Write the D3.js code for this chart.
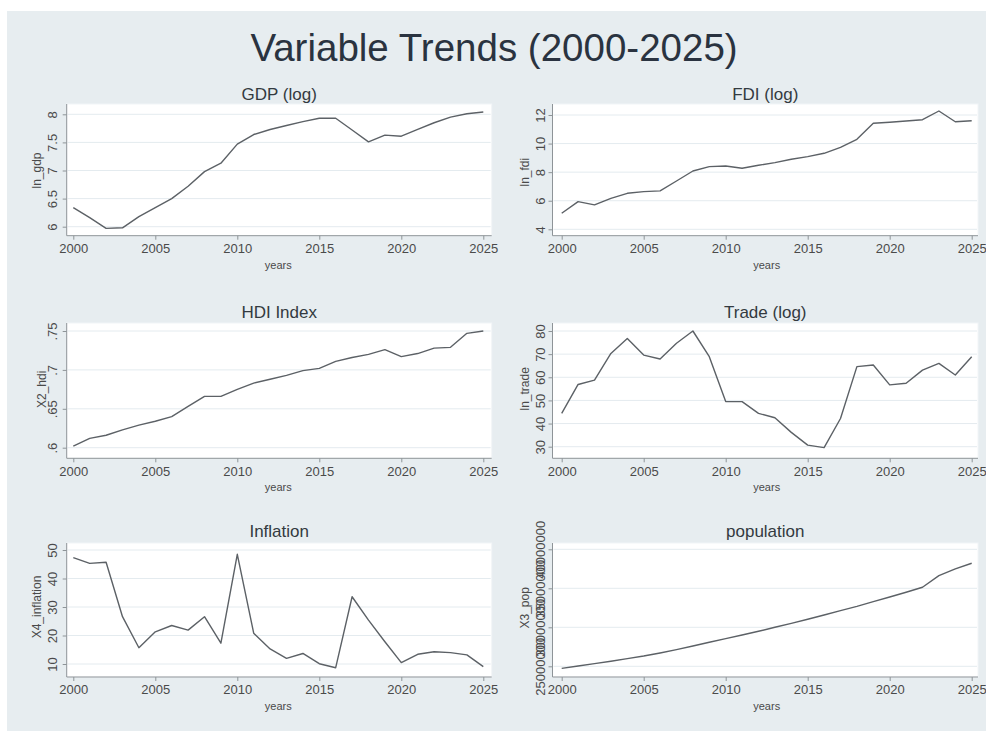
<!DOCTYPE html>
<html><head><meta charset="utf-8">
<script src="https://cdn.jsdelivr.net/npm/d3@7"></script>
<style>
html,body{margin:0;padding:0;background:#ffffff;}
svg{display:block;font-family:"Liberation Sans",Arial,sans-serif;}
</style></head>
<body>
<svg id="chart" width="986" height="731"></svg>
<script>
// ---------- DATA ----------
const years = [2000,2001,2002,2003,2004,2005,2006,2007,2008,2009,2010,2011,2012,2013,2014,2015,2016,2017,2018,2019,2020,2021,2022,2023,2024,2025];
const xTicks = [2000,2005,2010,2015,2020,2025];

const lnGdp = [6.34,6.16,5.97,5.98,6.18,6.34,6.50,6.72,6.98,7.13,7.47,7.64,7.73,7.80,7.87,7.93,7.93,7.72,7.51,7.63,7.61,7.73,7.85,7.95,8.01,8.04];
const lnFdi = [5.12,5.94,5.71,6.17,6.52,6.64,6.69,7.38,8.08,8.39,8.43,8.27,8.48,8.67,8.90,9.09,9.32,9.74,10.30,11.42,11.49,11.58,11.67,12.28,11.53,11.60];
const hdi = [0.602,0.612,0.616,0.623,0.629,0.634,0.640,0.653,0.666,0.666,0.675,0.683,0.688,0.693,0.699,0.702,0.711,0.716,0.720,0.726,0.717,0.721,0.728,0.729,0.747,0.750];
const lnTrade = [44.4,56.9,58.8,70.3,76.8,69.6,67.9,74.7,80.0,68.9,49.5,49.5,44.4,42.5,36.2,30.7,29.6,42.2,64.6,65.3,56.7,57.4,63.1,66.0,61.0,68.9];
const inflation = [47.3,45.3,45.7,26.6,15.7,21.3,23.5,21.9,26.6,17.3,48.5,20.8,15.3,12.0,13.7,10.1,8.7,33.6,25.4,17.8,10.5,13.4,14.3,14.0,13.2,9.1];
const population = [24740000,25040000,25340000,25640000,25980000,26320000,26710000,27140000,27610000,28080000,28550000,29020000,29490000,30000000,30510000,31030000,31580000,32140000,32690000,33290000,33890000,34490000,35130000,36620000,37480000,38210000];

const gdpTicks = [6,6.5,7,7.5,8];
const fdiTicks = [4,6,8,10,12];
const hdiTicks = [0.6,0.65,0.7,0.75];
const hdiTickLabels = [".6",".65",".7",".75"];
const tradeTicks = [30,40,50,60,70,80];
const inflTicks = [10,20,30,40,50];
const popTicks = [25000000,30000000,35000000,40000000];

const panelTitles = ["GDP (log)","FDI (log)","HDI Index","Trade (log)","Inflation","population"];
const yTitles = ["ln_gdp","ln_fdi","X2_hdi","ln_trade","X4_inflation","X3_pop"];
const mainTitle = "Variable Trends (2000-2025)";
const xTitle = "years";

// ---------- LAYOUT ----------
const cols = [
  {px0:66.7, px1:491.7, x0:73.3, x1:483.3, tickLblX:53, titleX:37},
  {px0:552.5, px1:978, x0:561.7, x1:971.7, tickLblX:540, titleX:525}
];
const rows = [
  {top:104, axisY:235.7, titleY:94},
  {top:323, axisY:458.3, titleY:312},
  {top:543, axisY:677, titleY:531}
];

const panels = [
  {col:0,row:0, values:lnGdp, ticks:gdpTicks, labels:gdpTicks.map(String), yr:[226.7,114.3]},
  {col:1,row:0, values:lnFdi, ticks:fdiTicks, labels:fdiTicks.map(String), yr:[229.3,115]},
  {col:0,row:1, values:hdi, ticks:hdiTicks, labels:hdiTickLabels, yr:[447.7,331], titleX:42},
  {col:1,row:1, values:lnTrade, ticks:tradeTicks, labels:tradeTicks.map(String), yr:[446.7,331]},
  {col:0,row:2, values:inflation, ticks:inflTicks, labels:inflTicks.map(String), yr:[664,550]},
  {col:1,row:2, values:population, ticks:popTicks, labels:popTicks.map(String), yr:[666.3,549.3]}
];

const C = {
  bg:"#e7edf0", plot:"#ffffff", grid:"#e4ebef", axis:"#8e9498",
  line:"#5c6166", tick:"#4a4a4a", title:"#2a3340", sub:"#333a40"
};

const svg = d3.select("#chart");
svg.append("rect").attr("x",7).attr("y",11).attr("width",979).attr("height",720).attr("fill",C.bg);

svg.append("text").attr("x",494).attr("y",61).attr("text-anchor","middle")
  .attr("font-size",38.5).attr("fill",C.title).text(mainTitle);

panels.forEach((p,i)=>{
  const c = cols[p.col], r = rows[p.row];
  const x = d3.scaleLinear().domain([xTicks[0], xTicks[xTicks.length-1]]).range([c.x0, c.x1]);
  const y = d3.scaleLinear().domain([p.ticks[0], p.ticks[p.ticks.length-1]]).range(p.yr);
  const g = svg.append("g");

  // plot region
  g.append("rect").attr("x",c.px0).attr("y",r.top).attr("width",c.px1-c.px0).attr("height",r.axisY-r.top)
    .attr("fill",C.plot).attr("stroke","#f2f5f7").attr("stroke-width",1);

  // grid
  g.selectAll("line.grid").data(p.ticks).join("line").attr("class","grid")
    .attr("x1",c.px0+1).attr("x2",c.px1-1)
    .attr("y1",d=>y(d)).attr("y2",d=>y(d))
    .attr("stroke",C.grid).attr("stroke-width",1);

  // x axis
  const xa = g.append("g").attr("transform",`translate(0,${r.axisY})`)
    .call(d3.axisBottom(x).tickValues(xTicks).tickFormat(d3.format("d")).tickSizeOuter(0).tickSize(4).tickPadding(4));
  xa.select(".domain").attr("d",`M${c.px0},0H${c.px1}`).attr("stroke",C.axis);
  xa.selectAll(".tick line").attr("stroke",C.axis);
  xa.selectAll(".tick text").attr("font-size",13).attr("fill",C.tick).attr("font-family","Liberation Sans, Arial, sans-serif");

  // y axis
  const ya = g.append("g").attr("transform",`translate(${c.px0},0)`)
    .call(d3.axisLeft(y).tickValues(p.ticks).tickFormat((d,k)=>p.labels[k]).tickSizeOuter(0).tickSize(4));
  ya.select(".domain").attr("d",`M0,${r.top}V${r.axisY}`).attr("stroke",C.axis);
  ya.selectAll(".tick line").attr("stroke",C.axis);
  ya.selectAll(".tick text")
    .attr("font-size",13).attr("fill",C.tick).attr("font-family","Liberation Sans, Arial, sans-serif")
    .attr("text-anchor","middle").attr("dy",null).attr("x",null)
    .attr("transform",`translate(${c.tickLblX - c.px0 + 4.5},0) rotate(-90)`)
    .attr("y",0);

  // y title
  const ty = (p.yr[0]+p.yr[1])/2;
  const tx = p.titleX !== undefined ? p.titleX : c.titleX;
  g.append("text").attr("transform",`translate(${tx+4},${ty}) rotate(-90)`)
    .attr("text-anchor","middle").attr("font-size",12).attr("fill",C.tick).text(yTitles[i]);

  // x title
  g.append("text").attr("x",(c.x0+c.x1)/2).attr("y",r.axisY+33).attr("text-anchor","middle")
    .attr("font-size",11).attr("fill",C.tick).text(xTitle);

  // panel title
  g.append("text").attr("x",(c.px0+c.px1)/2).attr("y",r.titleY+6).attr("text-anchor","middle")
    .attr("font-size",17).attr("fill",C.sub).text(panelTitles[i]);

  // line
  const line = d3.line().x((d,k)=>x(years[k])).y(d=>y(d));
  g.append("path").datum(p.values).attr("d",line).attr("fill","none")
    .attr("stroke",C.line).attr("stroke-width",1.4).attr("stroke-linejoin","round");
});
</script>
</body></html>
